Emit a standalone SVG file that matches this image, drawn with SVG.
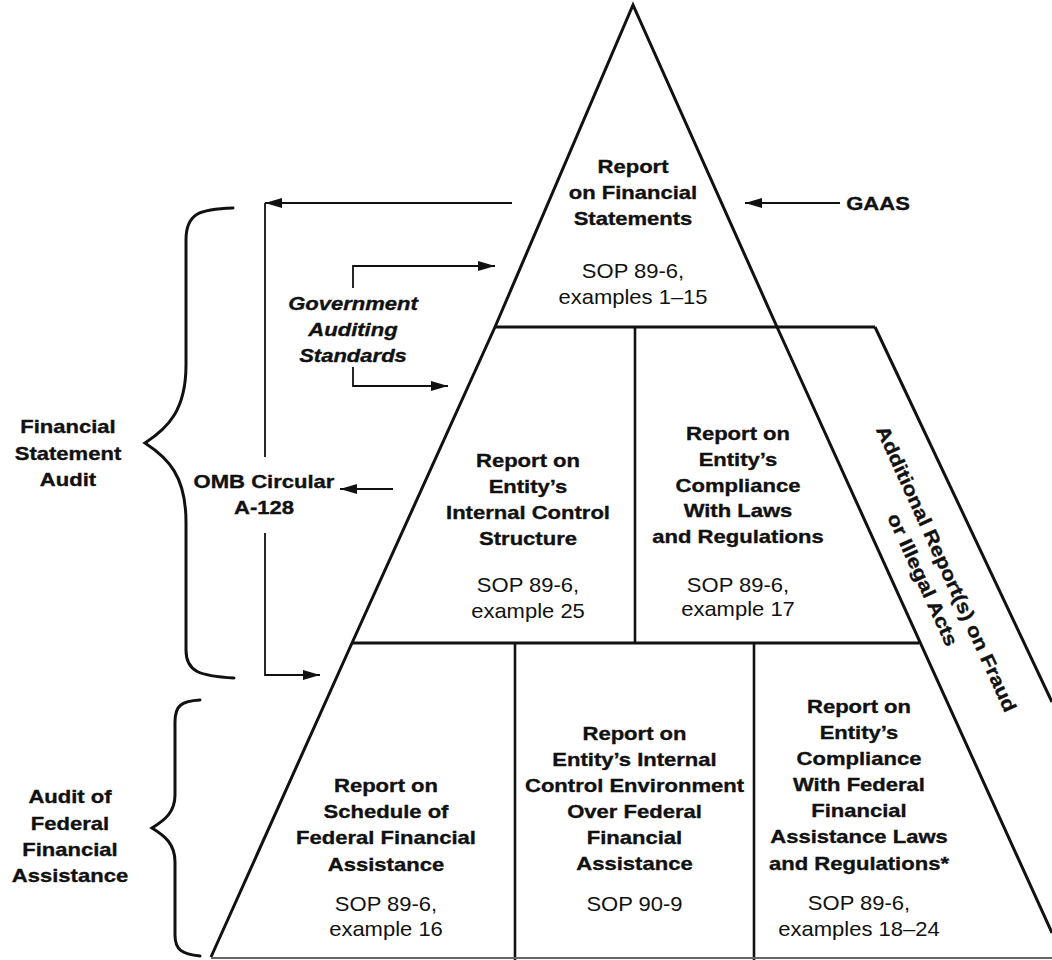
<svg xmlns="http://www.w3.org/2000/svg" width="1052" height="960" viewBox="0 0 1052 960">
<style>
.ln{fill:none;stroke:#111;stroke-width:3;stroke-linejoin:miter;stroke-linecap:butt}
.dv{fill:none;stroke:#111;stroke-width:2.6}
.cn{fill:none;stroke:#111;stroke-width:1.8}
.br{fill:none;stroke:#111;stroke-width:3;stroke-linecap:round}
text{font-family:"Liberation Sans",Arial,Helvetica,sans-serif;font-size:19px;fill:#111;text-anchor:middle}
.r{font-size:20px}
.b{font-weight:bold;stroke:#111;stroke-width:0.35}
.bi{font-weight:bold;font-style:italic;stroke:#111;stroke-width:0.35}
</style>
<defs>
<marker id="ah" viewBox="0 0 17 10" refX="17" refY="5" markerWidth="17" markerHeight="10" markerUnits="userSpaceOnUse" orient="auto">
<path d="M0,0 L17,5 L0,10 Z" fill="#111"/>
</marker>
</defs>
<rect width="1052" height="960" fill="#fff"/>

<g id="pyramid">
<polyline class="ln" points="211,957 352,643 495,327 633,5 777,327 1052,933"/>
<line class="ln" x1="495" y1="327" x2="875" y2="327"/>
<line class="ln" x1="352" y1="643" x2="919" y2="643"/>
<line class="ln" x1="875" y1="327" x2="1052" y2="702"/>
<line class="dv" x1="635" y1="327" x2="635" y2="643"/>
<line class="dv" x1="515" y1="643" x2="515" y2="960"/>
<line class="dv" x1="754" y1="643" x2="754" y2="960"/>
<line x1="211" y1="958" x2="1052" y2="958" stroke="#666" stroke-width="2"/>
</g>

<g id="node-financial-statements">
<text class="b" transform="translate(633,0) scale(1.16,1)"><tspan x="0" y="173">Report</tspan><tspan x="0" y="199">on Financial</tspan><tspan x="0" y="225">Statements</tspan></text>
<text class="r" transform="translate(633,0) scale(1.1,1)"><tspan x="0" y="278">SOP 89-6,</tspan><tspan x="0" y="304">examples 1–15</tspan></text>
</g>

<g id="node-internal-control-structure">
<text class="b" transform="translate(528,0) scale(1.16,1)"><tspan x="0" y="467">Report on</tspan><tspan x="0" y="493">Entity’s</tspan><tspan x="0" y="519">Internal Control</tspan><tspan x="0" y="545">Structure</tspan></text>
<text class="r" transform="translate(528,0) scale(1.1,1)"><tspan x="0" y="592">SOP 89-6,</tspan><tspan x="0" y="618">example 25</tspan></text>
</g>

<g id="node-compliance-laws">
<text class="b" transform="translate(738,0) scale(1.16,1)"><tspan x="0" y="440">Report on</tspan><tspan x="0" y="466">Entity’s</tspan><tspan x="0" y="492">Compliance</tspan><tspan x="0" y="517">With Laws</tspan><tspan x="0" y="543">and Regulations</tspan></text>
<text class="r" transform="translate(738,0) scale(1.1,1)"><tspan x="0" y="592">SOP 89-6,</tspan><tspan x="0" y="616">example 17</tspan></text>
</g>

<g id="node-fraud-illegal">
<text class="b" transform="translate(940.5,571.5) rotate(65.5) scale(1.16,1)"><tspan x="0" y="0">Additional Report(s) on Fraud</tspan><tspan x="0" y="26">or Illegal Acts</tspan></text>
</g>

<g id="node-schedule-ffa">
<text class="b" transform="translate(386,0) scale(1.16,1)"><tspan x="0" y="792">Report on</tspan><tspan x="0" y="818">Schedule of</tspan><tspan x="0" y="844">Federal Financial</tspan><tspan x="0" y="871">Assistance</tspan></text>
<text class="r" transform="translate(386,0) scale(1.1,1)"><tspan x="0" y="911">SOP 89-6,</tspan><tspan x="0" y="936">example 16</tspan></text>
</g>

<g id="node-control-environment">
<text class="b" transform="translate(634.5,0) scale(1.16,1)"><tspan x="0" y="740">Report on</tspan><tspan x="0" y="766">Entity’s Internal</tspan><tspan x="0" y="792">Control Environment</tspan><tspan x="0" y="818">Over Federal</tspan><tspan x="0" y="844">Financial</tspan><tspan x="0" y="870">Assistance</tspan></text>
<text class="r" transform="translate(634.5,0) scale(1.1,1)"><tspan x="0" y="911">SOP 90-9</tspan></text>
</g>

<g id="node-compliance-ffa">
<text class="b" transform="translate(859,0) scale(1.16,1)"><tspan x="0" y="713">Report on</tspan><tspan x="0" y="739">Entity’s</tspan><tspan x="0" y="765">Compliance</tspan><tspan x="0" y="791">With Federal</tspan><tspan x="0" y="817">Financial</tspan><tspan x="0" y="843">Assistance Laws</tspan><tspan x="0" y="870">and Regulations*</tspan></text>
<text class="r" transform="translate(859,0) scale(1.1,1)"><tspan x="0" y="910">SOP 89-6,</tspan><tspan x="0" y="936">examples 18–24</tspan></text>
</g>

<g id="node-gaas">
<text class="b" transform="translate(878,0) scale(1.16,1)"><tspan x="0" y="210">GAAS</tspan></text>
</g>

<g id="node-gas">
<text class="bi" transform="translate(353,0) scale(1.16,1)"><tspan x="0" y="310">Government</tspan><tspan x="0" y="336">Auditing</tspan><tspan x="0" y="362">Standards</tspan></text>
</g>

<g id="node-omb">
<text class="b" transform="translate(264,0) scale(1.16,1)"><tspan x="0" y="488">OMB Circular</tspan><tspan x="0" y="514">A-128</tspan></text>
</g>

<g id="node-fs-audit">
<text class="b" transform="translate(68,0) scale(1.16,1)"><tspan x="0" y="433">Financial</tspan><tspan x="0" y="460">Statement</tspan><tspan x="0" y="486">Audit</tspan></text>
<path class="br" d="M233,208 C200,209 186,213 186,240 L186,365 C186,410 168,428 145,443 C168,458 186,476 186,522 L186,650 C186,672 200,676 234,678"/>
</g>

<g id="node-ffa-audit">
<text class="b" transform="translate(70,0) scale(1.16,1)"><tspan x="0" y="803">Audit of</tspan><tspan x="0" y="830">Federal</tspan><tspan x="0" y="856">Financial</tspan><tspan x="0" y="882">Assistance</tspan></text>
<path class="br" d="M200,700 C182,701 175,705 175,722 L175,795 C175,812 165,820 152,828 C165,836 175,844 175,862 L175,935 C175,950 182,954 200,956"/>
</g>

<g id="connectors">
<line class="cn" x1="840" y1="203" x2="745" y2="203" marker-end="url(#ah)"/>
<line class="cn" x1="512" y1="203" x2="265" y2="203" marker-end="url(#ah)"/>
<line class="cn" x1="265" y1="203" x2="265" y2="457"/>
<polyline class="cn" points="265,533 265,675 320,675" marker-end="url(#ah)"/>
<polyline class="cn" points="353,288 353,266 495,266" marker-end="url(#ah)"/>
<polyline class="cn" points="353,367 353,386 448,386" marker-end="url(#ah)"/>
<line class="cn" x1="393" y1="489" x2="340" y2="489" marker-end="url(#ah)"/>
</g>
</svg>
